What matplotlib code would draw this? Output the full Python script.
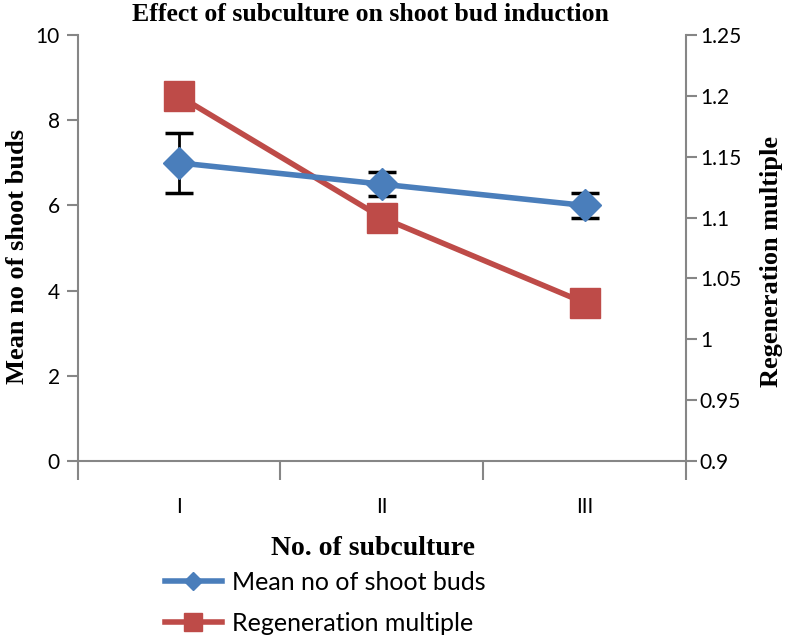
import numpy as np
import matplotlib.pyplot as plt
from matplotlib.lines import Line2D

# data
subcultures = ['I', 'II', 'III']
shoot_buds = [7.0, 6.5, 6.0]
shoot_buds_err = [0.7, 0.28, 0.3]
regen_multiple = [1.2, 1.1, 1.03]

blue = '#4a7ebb'
red = '#be4b48'
grey = '#868686'
tick_font = 'Lato'
serif = 'Liberation Serif'

fig = plt.figure(figsize=(7.93, 6.4), dpi=100)
ax = fig.add_axes([0.098, 0.280, 0.767, 0.665])
ax2 = ax.twinx()

x = np.arange(len(subcultures)) + 0.5

# red series on the right axis, drawn beneath
ax.set_zorder(2)
ax.patch.set_visible(False)
ax2.plot(x, regen_multiple, color=red, lw=4, marker='s', markersize=22,
         solid_capstyle='round', zorder=2)

ax.errorbar(x, shoot_buds, yerr=shoot_buds_err, fmt='none', ecolor='black',
            elinewidth=2, capsize=10, capthick=2.5, zorder=3)
ax.plot(x, shoot_buds, color=blue, lw=4, marker='D', markersize=16,
        solid_capstyle='round', zorder=4)

ax.set_xlim(0, 3)
ax.set_ylim(0, 10)
ax2.set_ylim(0.9, 1.25)
ax.set_yticks([0, 2, 4, 6, 8, 10])
ax2.set_yticks([0.9, 0.95, 1.0, 1.05, 1.1, 1.15, 1.2, 1.25])
ax2.set_yticklabels(['0.9', '0.95', '1', '1.05', '1.1', '1.15', '1.2', '1.25'])

ax.set_xticks([0, 1, 2, 3])
ax.set_xticklabels([])
ax.set_xticks(x, minor=True)
ax.set_xticklabels(subcultures, minor=True)
ax.tick_params(axis='x', which='major', direction='out', length=14, width=1.5, color=grey)
ax.tick_params(axis='x', which='minor', length=0, pad=26, labelsize=15)
ax.tick_params(axis='y', direction='out', length=8, width=1.5, color=grey, labelsize=15, pad=5)
ax2.tick_params(axis='y', direction='out', length=8, width=1.5, color=grey, labelsize=15, pad=2)

for a in (ax, ax2):
    for lab in a.get_xticklabels(which='both') + a.get_yticklabels():
        lab.set_fontfamily(tick_font)
    for s in a.spines.values():
        s.set_visible(False)
ax.spines['left'].set_visible(True)
ax.spines['bottom'].set_visible(True)
ax2.spines['right'].set_visible(True)
for s in (ax.spines['left'], ax.spines['bottom'], ax2.spines['right']):
    s.set_color(grey)
    s.set_linewidth(1.5)

fig.text(0.467, 0.978, 'Effect of subculture on shoot bud induction', ha='center', va='center',
         fontsize=18.5, fontweight='bold', family=serif)
fig.text(0.022, 0.600, 'Mean no of shoot buds', rotation=90, ha='center', va='center',
         fontsize=19, fontweight='bold', family=serif)
fig.text(0.973, 0.592, 'Regeneration multiple', rotation=90, ha='center', va='center',
         fontsize=19, fontweight='bold', family=serif)
fig.text(0.470, 0.143, 'No. of subculture', ha='center', va='center',
         fontsize=20, fontweight='bold', family=serif)

handles = [
    Line2D([], [], color=blue, lw=4, marker='D', markersize=9),
    Line2D([], [], color=red, lw=4, marker='s', markersize=13),
]
fig.legend(handles, ['Mean no of shoot buds', 'Regeneration multiple'],
           loc='upper left', bbox_to_anchor=(0.195, 0.124), frameon=False,
           handlelength=2.3, handletextpad=0.4, labelspacing=0.72, borderaxespad=0,
           prop={'family': tick_font, 'size': 18})

fig.savefig('out.png', dpi=100)
